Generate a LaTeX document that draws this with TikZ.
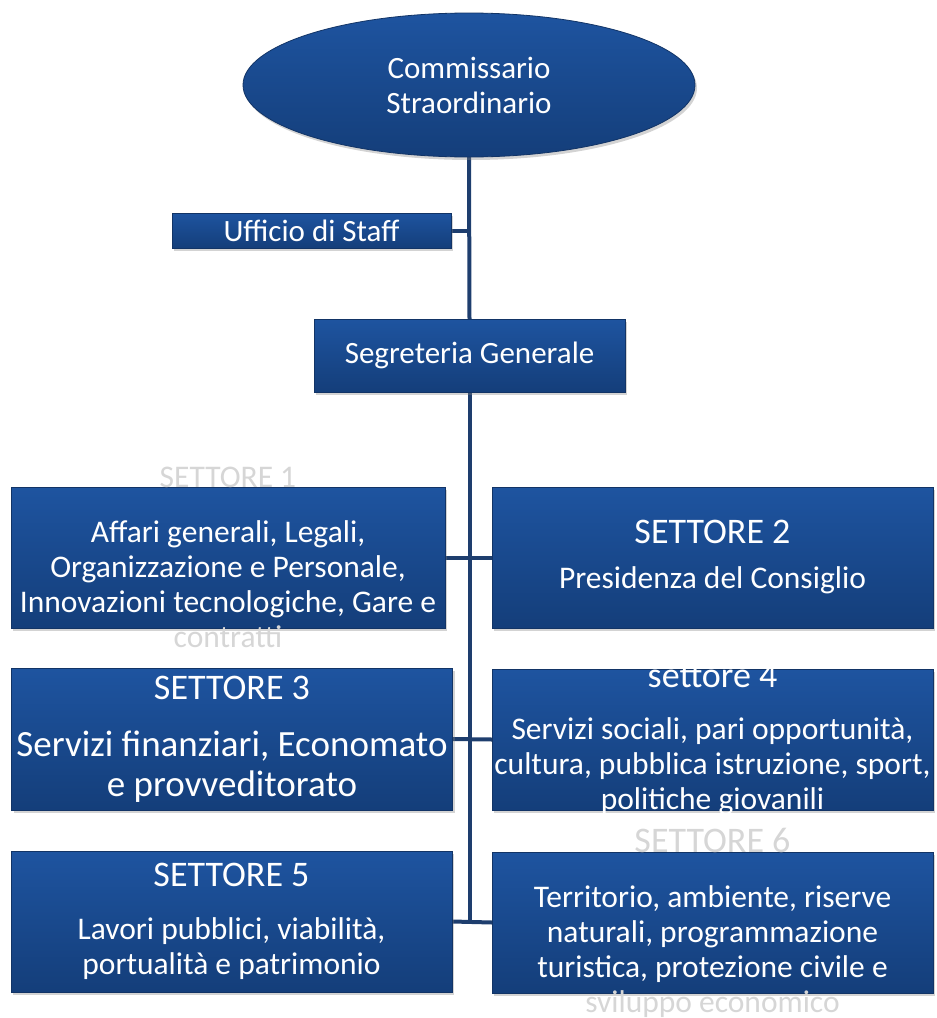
\documentclass[tikz,border=0pt]{standalone}
\usepackage{fontspec}
\setmainfont{Carlito}
\usetikzlibrary{shapes.geometric,shadows,backgrounds}
\definecolor{boxtop}{RGB}{30,84,160}
\definecolor{boxbot}{RGB}{20,62,122}
\definecolor{boxedge}{RGB}{18,52,102}
\definecolor{linkcol}{RGB}{30,62,110}
\definecolor{fuori}{RGB}{214,214,214}
\newcommand{\fuoritext}[1]{\textcolor{fuori}{#1}}
\newcommand{\titolo}[1]{{\fontsize{36}{36}\selectfont #1}}
\begin{document}
\begin{tikzpicture}[x=1pt,y=-1pt,outer sep=0pt,inner sep=0pt]
\tikzstyle{box}=[draw=boxedge, line width=0.8pt, top color=boxtop, bottom color=boxbot,
    drop shadow={shadow xshift=2pt,shadow yshift=-3pt,opacity=0.35},
    minimum width=441pt, minimum height=141pt]
\tikzstyle{txt}=[text=white, align=center, font=\fontsize{31.5}{35}\selectfont]
\tikzstyle{link}=[draw=linkcol, line width=4pt]
\useasboundingbox (0,0) rectangle (937,1018);

    \node (comm) [ellipse, draw=boxedge, line width=0.8pt, top color=boxtop, bottom color=boxbot,
        drop shadow={shadow xshift=2pt,shadow yshift=-3pt,opacity=0.35},
        minimum width=452pt, minimum height=144pt, txt, font=\fontsize{31}{35}\selectfont]
        at (469,85) {Commissario\\Straordinario};
    \node (staff) [box, minimum width=279pt, minimum height=35pt, txt, font=\fontsize{31}{35}\selectfont]
        at (311.5,230.5) {Ufficio di Staff};
    \node (segr) [box, minimum width=311pt, minimum height=73pt, txt, font=\fontsize{31}{35}\selectfont]
        at (469.5,355.5) {Segreteria Generale};

    \node (s1) [box, minimum width=434pt] at (228,557.5) {};
    \node (s2) [box] at (712.5,557.5) {};
    \node (s3) [box, minimum height=142pt] at (232,739) {};
    \node (s4) [box] at (712.5,739.5) {};
    \node (s5) [box] at (231.5,921.5) {};
    \node (s6) [box] at (712.5,922.5) {};

    \node (t1) [txt] at (s1.center) {{\fontsize{31.5}{35}\selectfont\fuoritext{SETTORE 1}}\\[20pt]
        Affari generali, Legali,\\ Organizzazione e Personale,\\
        Innovazioni tecnologiche, Gare e\\ \fuoritext{contratti}};
    \node (t2) [txt] at (s2.center) {\titolo{SETTORE 2}\\[10pt] Presidenza del Consiglio};
    \node (t3) [txt, font=\fontsize{37}{40}\selectfont] at (s3.center)
        {\titolo{SETTORE 3}\\[17pt] Servizi finanziari, Economato\\ e provveditorato};
    \node (t4) [txt] at (s4.center) {\titolo{settore 4}\\[17pt]
        Servizi sociali, pari opportunità,\\ cultura, pubblica istruzione, sport,\\ politiche giovanili};
    \node (t5) [txt] at (s5.center) {\titolo{SETTORE 5}\\[18pt]
        Lavori pubblici, viabilità,\\ portualità e patrimonio};
    \node (t6) [txt] at (s6.center) {\titolo{\fuoritext{SETTORE 6}}\\[20pt]
        Territorio, ambiente, riserve\\ naturali, programmazione\\
        turistica, protezione civile e\\ \fuoritext{sviluppo economico}};

    \begin{scope}[on background layer]
    \draw[link] (comm.south) -- (segr.north);
    \draw[link] (staff.east) -- (staff.east -| segr.north);
    \draw[link] (segr.south) -- (segr.south |- s5.east);
    \draw[link] (s1.east) -- (s2.west);
    \draw[link] (s3.east) -- (s4.west);
    \draw[link] (s5.east) -- (s6.west);
    \end{scope}
\end{tikzpicture}
\end{document}
